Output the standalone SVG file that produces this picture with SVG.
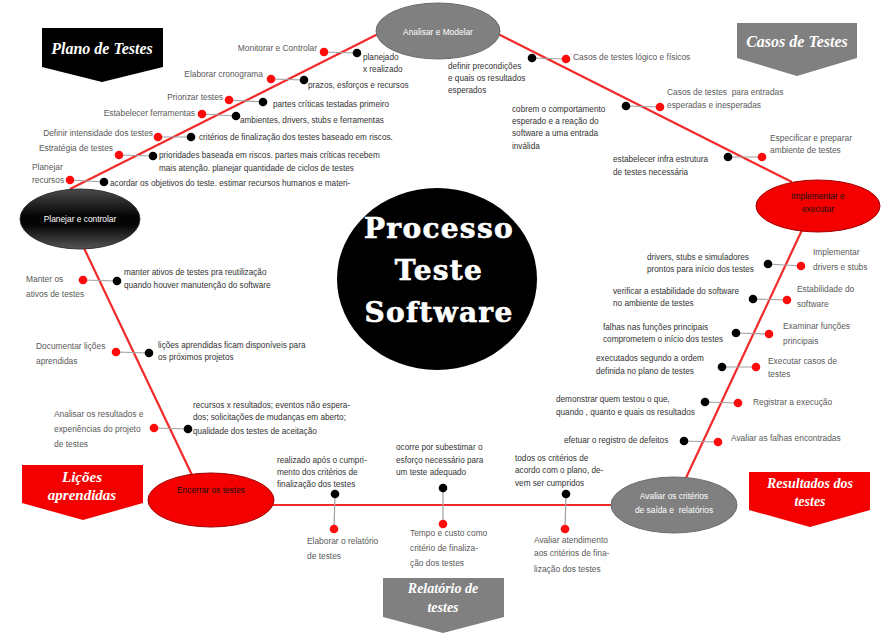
<svg xmlns="http://www.w3.org/2000/svg" width="885" height="636" viewBox="0 0 885 636">
<defs>
<style>
.lbl{font-family:"Liberation Sans",Arial,sans-serif;font-size:8.4px;fill:#5a5a5a}
.dsc{font-family:"Liberation Sans",Arial,sans-serif;font-size:8.2px;fill:#333}
.e{text-anchor:end}
.rd{fill:#ff0a0a}
.bk{fill:#000}
.gl{stroke:#a0a0a0;stroke-width:1.2}
.rl{stroke:#f22a2a;stroke-width:2.2;fill:none}
.call{font-family:"Liberation Serif","Times New Roman",serif;font-style:italic;font-weight:bold;fill:#fff;text-anchor:middle}
.nt{font-family:"Liberation Sans",Arial,sans-serif;font-size:8.4px;text-anchor:middle}
.big{font-family:"DejaVu Serif",serif;font-weight:bold;font-size:28px;fill:#fff;stroke:#fff;stroke-width:0.6;text-anchor:middle;letter-spacing:1.3px}
</style>
<linearGradient id="dk" x1="0" y1="0" x2="0" y2="1">
<stop offset="0" stop-color="#4a4a4a"/>
<stop offset="0.45" stop-color="#050505"/>
<stop offset="0.6" stop-color="#050505"/>
<stop offset="1" stop-color="#555"/>
</linearGradient>
</defs>
<rect width="885" height="636" fill="#fff"/>

<g id="connectors">
<line class="rl" x1="70" y1="189" x2="380" y2="33"/>
<line class="rl" x1="498" y1="34" x2="792" y2="182"/>
<line class="rl" x1="802" y1="230" x2="685" y2="480"/>
<line class="rl" x1="273" y1="505" x2="613" y2="505"/>
<line class="rl" x1="83" y1="246" x2="192" y2="475"/>
<g class="gl">
<line x1="324" y1="52" x2="357" y2="53"/>
<line x1="271" y1="79" x2="304" y2="80"/>
<line x1="229" y1="100" x2="263" y2="102"/>
<line x1="202" y1="114" x2="236" y2="116"/>
<line x1="158" y1="137" x2="191" y2="137"/>
<line x1="119" y1="155" x2="153" y2="156"/>
<line x1="70" y1="180" x2="104" y2="182"/>
<line x1="532" y1="58" x2="566" y2="59"/>
<line x1="626" y1="106" x2="660" y2="107"/>
<line x1="728" y1="157" x2="762" y2="157"/>
<line x1="768" y1="264" x2="801" y2="266"/>
<line x1="753" y1="299" x2="787" y2="300"/>
<line x1="736" y1="333" x2="769" y2="334"/>
<line x1="722" y1="367" x2="756" y2="367"/>
<line x1="705" y1="402" x2="738" y2="403"/>
<line x1="684" y1="441" x2="718" y2="442"/>
<line x1="566" y1="494" x2="565" y2="529"/>
<line x1="443" y1="488" x2="443" y2="524"/>
<line x1="335" y1="494" x2="334" y2="529"/>
<line x1="83" y1="280" x2="117" y2="281"/>
<line x1="116" y1="352" x2="149" y2="353"/>
<line x1="154" y1="428" x2="188" y2="429"/>
</g>
</g>

<g id="center">
<ellipse cx="437" cy="279" rx="100" ry="91" fill="#000"/>
<text class="big" x="439" y="238">Processo</text>
<text class="big" x="439" y="280">Teste</text>
<text class="big" x="439" y="322">Software</text>
</g>

<g id="analisar">
<ellipse cx="438" cy="31" rx="62" ry="28" fill="#808080" stroke="#6a6a6a" stroke-width="1"/>
<text class="nt" x="438" y="35" fill="#fff">Analisar e Modelar</text>
</g>
<g id="planejar">
<ellipse cx="80" cy="219" rx="60" ry="30" fill="url(#dk)" stroke="#333" stroke-width="1"/>
<text class="nt" x="80" y="222" fill="#fff">Planejar e controlar</text>
</g>
<g id="implementar">
<ellipse cx="818" cy="206" rx="62" ry="26" fill="#f40000" stroke="#a00000" stroke-width="1"/>
<text class="nt" x="818" y="199" fill="#111">Implementar e</text>
<text class="nt" x="818" y="212" fill="#111">executar</text>
</g>
<g id="encerrar">
<ellipse cx="211" cy="500" rx="63" ry="27" fill="#f40000" stroke="#a00000" stroke-width="1"/>
<text class="nt" x="211" y="493" fill="#111">Encerrar os testes</text>
</g>
<g id="avaliar">
<ellipse cx="674" cy="505" rx="63" ry="28" fill="#808080" stroke="#6a6a6a" stroke-width="1"/>
<text class="nt" x="674" y="499" fill="#fff">Avaliar os critérios</text>
<text class="nt" x="674" y="513" fill="#fff" xml:space="preserve">de saída e  relatórios</text>
</g>

<g id="callout-plano">
<polygon points="42,28 163,28 163,67 102,82 42,67" fill="#000"/>
<text class="call" x="102" y="54" font-size="16">Plano de Testes</text>
</g>
<g id="callout-casos">
<polygon points="737,23 857,23 857,58 797,76 737,58" fill="#808080"/>
<text class="call" x="797" y="47" font-size="16">Casos de Testes</text>
</g>
<g id="callout-licoes">
<polygon points="22,465 143,465 143,503 83,520 22,503" fill="#f40000"/>
<text class="call" x="82" y="482" font-size="15">Lições</text>
<text class="call" x="82" y="500" font-size="15">aprendidas</text>
</g>
<g id="callout-relatorio">
<polygon points="383,578 504,578 504,617 443,633 383,617" fill="#808080"/>
<text class="call" x="443" y="593" font-size="14">Relatório de</text>
<text class="call" x="443" y="612" font-size="14">testes</text>
</g>
<g id="callout-resultados">
<polygon points="749,472 870,472 870,510 810,527 749,510" fill="#f40000"/>
<text class="call" x="810" y="488" font-size="14">Resultados dos</text>
<text class="call" x="810" y="506" font-size="14">testes</text>
</g>

<g id="item-monitorar">
<circle class="rd" cx="324" cy="52" r="4.3"/><circle class="bk" cx="357" cy="53" r="4.3"/>
<text class="lbl e" x="317" y="51">Monitorar e Controlar</text>
<text class="dsc" x="363" y="60">planejado</text>
<text class="dsc" x="363" y="72">x realizado</text>
</g>
<g id="item-cronograma">
<circle class="rd" cx="271" cy="79" r="4.3"/><circle class="bk" cx="304" cy="80" r="4.3"/>
<text class="lbl e" x="263" y="77">Elaborar cronograma</text>
<text class="dsc" x="308" y="88">prazos, esforços e recursos</text>
</g>
<g id="item-priorizar">
<circle class="rd" cx="229" cy="100" r="4.3"/><circle class="bk" cx="263" cy="102" r="4.3"/>
<text class="lbl e" x="223" y="100">Priorizar testes</text>
<text class="dsc" x="273" y="107">partes críticas testadas primeiro</text>
</g>
<g id="item-ferramentas">
<circle class="rd" cx="202" cy="114" r="4.3"/><circle class="bk" cx="236" cy="116" r="4.3"/>
<text class="lbl e" x="195" y="116">Estabelecer ferramentas</text>
<text class="dsc" x="240" y="123">ambientes, drivers, stubs e ferramentas</text>
</g>
<g id="item-intensidade">
<circle class="rd" cx="158" cy="137" r="4.3"/><circle class="bk" cx="191" cy="137" r="4.3"/>
<text class="lbl e" x="153" y="136">Definir intensidade dos testes</text>
<text class="dsc" x="199" y="140">critérios de finalização dos testes baseado em riscos.</text>
</g>
<g id="item-estrategia">
<circle class="rd" cx="119" cy="155" r="4.3"/><circle class="bk" cx="153" cy="156" r="4.3"/>
<text class="lbl e" x="113" y="151">Estratégia de testes</text>
<text class="dsc" x="159" y="158">prioridades baseada em riscos. partes mais críticas recebem</text>
<text class="dsc" x="159" y="171">mais atenção. planejar quantidade de ciclos de testes</text>
</g>
<g id="item-recursos">
<circle class="rd" cx="70" cy="180" r="4.3"/><circle class="bk" cx="104" cy="182" r="4.3"/>
<text class="lbl" x="32" y="170">Planejar</text>
<text class="lbl" x="32" y="183">recursos</text>
<text class="dsc" x="110" y="186">acordar os objetivos do teste. estimar recursos humanos e materi-</text>
</g>

<g id="item-casos-logicos">
<circle class="bk" cx="532" cy="58" r="4.3"/><circle class="rd" cx="566" cy="59" r="4.3"/>
<text class="lbl" x="573" y="60">Casos de testes lógico e físicos</text>
<text class="dsc" x="448" y="69">definir precondições</text>
<text class="dsc" x="448" y="81">e quais os resultados</text>
<text class="dsc" x="448" y="93">esperados</text>
</g>
<g id="item-casos-entradas">
<circle class="bk" cx="626" cy="106" r="4.3"/><circle class="rd" cx="660" cy="107" r="4.3"/>
<text class="lbl" x="667" y="95" xml:space="preserve">Casos de testes  para entradas</text>
<text class="lbl" x="667" y="108">esperadas e inesperadas</text>
<text class="dsc" x="512" y="112">cobrem o comportamento</text>
<text class="dsc" x="512" y="124">esperado e a reação do</text>
<text class="dsc" x="512" y="136">software a uma entrada</text>
<text class="dsc" x="512" y="149">inválida</text>
</g>
<g id="item-ambiente">
<circle class="bk" cx="728" cy="157" r="4.3"/><circle class="rd" cx="762" cy="157" r="4.3"/>
<text class="lbl" x="770" y="141">Especificar e preparar</text>
<text class="lbl" x="770" y="153">ambiente de testes</text>
<text class="dsc" x="613" y="162">estabelecer infra estrutura</text>
<text class="dsc" x="613" y="175">de testes necessária</text>
</g>

<g id="item-drivers">
<circle class="bk" cx="768" cy="264" r="4.3"/><circle class="rd" cx="801" cy="266" r="4.3"/>
<text class="lbl" x="813" y="255">Implementar</text>
<text class="lbl" x="813" y="270">drivers e stubs</text>
<text class="dsc" x="647" y="260">drivers, stubs e simuladores</text>
<text class="dsc" x="647" y="272">prontos para início dos testes</text>
</g>
<g id="item-estabilidade">
<circle class="bk" cx="753" cy="299" r="4.3"/><circle class="rd" cx="787" cy="300" r="4.3"/>
<text class="lbl" x="797" y="292">Estabilidade do</text>
<text class="lbl" x="797" y="307">software</text>
<text class="dsc" x="613" y="294">verificar a estabilidade do software</text>
<text class="dsc" x="613" y="306">no ambiente de testes</text>
</g>
<g id="item-funcoes">
<circle class="bk" cx="736" cy="333" r="4.3"/><circle class="rd" cx="769" cy="334" r="4.3"/>
<text class="lbl" x="783" y="329">Examinar funções</text>
<text class="lbl" x="783" y="344">principais</text>
<text class="dsc" x="603" y="330">falhas nas funções principais</text>
<text class="dsc" x="603" y="342">comprometem o início dos testes</text>
</g>
<g id="item-executar">
<circle class="bk" cx="722" cy="367" r="4.3"/><circle class="rd" cx="756" cy="367" r="4.3"/>
<text class="lbl" x="768" y="364">Executar casos de</text>
<text class="lbl" x="768" y="377">testes</text>
<text class="dsc" x="596" y="361">executados segundo a ordem</text>
<text class="dsc" x="596" y="374">definida no plano de testes</text>
</g>
<g id="item-registrar">
<circle class="bk" cx="705" cy="402" r="4.3"/><circle class="rd" cx="738" cy="403" r="4.3"/>
<text class="lbl" x="753" y="405">Registrar a execução</text>
<text class="dsc" x="556" y="402">demonstrar quem testou o que,</text>
<text class="dsc" x="556" y="415">quando , quanto e quais os resultados</text>
</g>
<g id="item-falhas">
<circle class="bk" cx="684" cy="441" r="4.3"/><circle class="rd" cx="718" cy="442" r="4.3"/>
<text class="lbl" x="731" y="441">Avaliar as falhas encontradas</text>
<text class="dsc" x="564" y="443">efetuar o registro de defeitos</text>
</g>

<g id="item-atendimento">
<circle class="bk" cx="566" cy="494" r="4.3"/><circle class="rd" cx="565" cy="529" r="4.3"/>
<text class="dsc" x="515" y="461">todos os critérios de</text>
<text class="dsc" x="515" y="473">acordo com o plano, de-</text>
<text class="dsc" x="515" y="486">vem ser cumpridos</text>
<text class="lbl" x="534" y="543">Avaliar atendimento</text>
<text class="lbl" x="534" y="556">aos critérios de fina-</text>
<text class="lbl" x="534" y="572">lização dos testes</text>
</g>
<g id="item-tempo">
<circle class="bk" cx="443" cy="488" r="4.3"/><circle class="rd" cx="443" cy="524" r="4.3"/>
<text class="dsc" x="396" y="450">ocorre por subestimar o</text>
<text class="dsc" x="396" y="463">esforço necessário para</text>
<text class="dsc" x="396" y="475">um teste adequado</text>
<text class="lbl" x="410" y="536">Tempo e custo como</text>
<text class="lbl" x="410" y="551">critério de finaliza-</text>
<text class="lbl" x="410" y="566">ção dos testes</text>
</g>
<g id="item-relatorio">
<circle class="bk" cx="335" cy="494" r="4.3"/><circle class="rd" cx="334" cy="529" r="4.3"/>
<text class="dsc" x="277" y="463">realizado após o cumpri-</text>
<text class="dsc" x="277" y="475">mento dos critérios de</text>
<text class="dsc" x="277" y="487">finalização dos testes</text>
<text class="lbl" x="307" y="544">Elaborar o relatório</text>
<text class="lbl" x="307" y="559">de testes</text>
</g>

<g id="item-ativos">
<circle class="rd" cx="83" cy="280" r="4.3"/><circle class="bk" cx="117" cy="281" r="4.3"/>
<text class="lbl" x="26" y="282">Manter os</text>
<text class="lbl" x="26" y="297">ativos de testes</text>
<text class="dsc" x="124" y="275">manter ativos de testes pra reutilização</text>
<text class="dsc" x="124" y="288">quando houver manutenção do software</text>
</g>
<g id="item-licoes">
<circle class="rd" cx="116" cy="352" r="4.3"/><circle class="bk" cx="149" cy="353" r="4.3"/>
<text class="lbl" x="36" y="349">Documentar lições</text>
<text class="lbl" x="36" y="364">aprendidas</text>
<text class="dsc" x="158" y="348">lições aprendidas ficam disponíveis para</text>
<text class="dsc" x="158" y="360">os próximos projetos</text>
</g>
<g id="item-analisar-resultados">
<circle class="rd" cx="154" cy="428" r="4.3"/><circle class="bk" cx="188" cy="429" r="4.3"/>
<text class="lbl" x="54" y="417">Analisar os resultados e</text>
<text class="lbl" x="54" y="432">experiências do projeto</text>
<text class="lbl" x="54" y="447">de testes</text>
<text class="dsc" x="193" y="408">recursos x resultados; eventos não espera-</text>
<text class="dsc" x="193" y="420">dos; solicitações de mudanças em aberto;</text>
<text class="dsc" x="193" y="434">qualidade dos testes de aceitação</text>
</g>
</svg>
